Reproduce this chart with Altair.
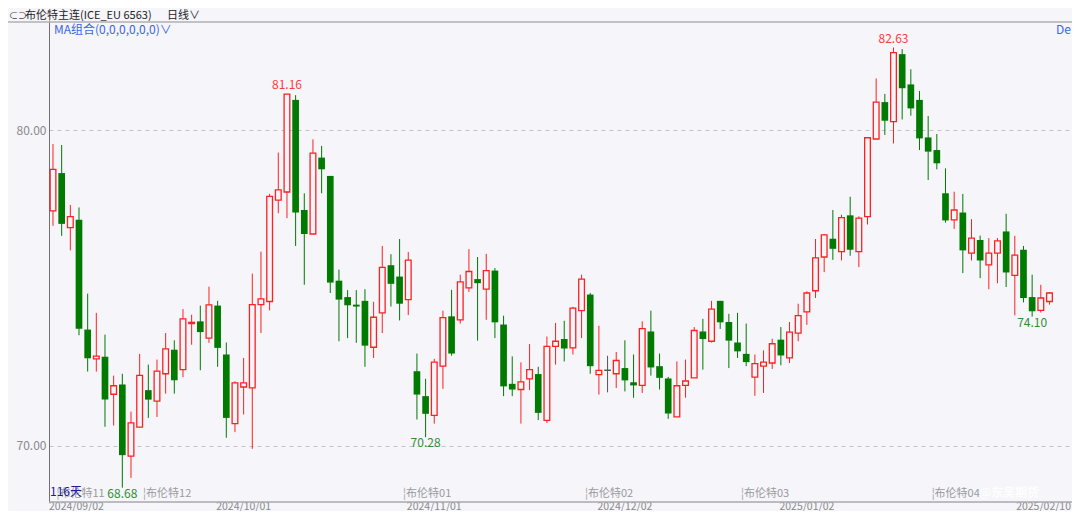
import altair as alt
import numpy as np
import pandas as pd

# ---- data (Brent continuous, daily) ----
opens = [77.45, 78.65, 76.92, 77.17, 73.69, 72.76, 72.83, 71.64, 71.95, 69.68,
         70.60, 71.77, 71.42, 72.29, 73.05, 72.42, 73.88, 73.95, 73.42, 74.45,
         72.90, 70.71, 71.87, 71.84, 74.48, 74.58, 77.79, 78.05, 80.97, 77.48,
         76.72, 79.14, 78.56, 75.24, 74.72, 74.48, 74.60, 73.13, 74.22, 75.73,
         75.37, 74.64, 72.37, 71.58, 70.97, 72.53, 74.11, 74.00, 75.01, 75.29,
         74.97, 75.56, 73.85, 71.97, 71.79, 72.13, 72.28, 70.81, 73.16, 73.39,
         73.11, 74.29, 74.80, 72.26, 72.40, 72.29, 72.47, 72.02, 71.92, 73.63,
         72.53, 72.14, 70.92, 71.92, 72.16, 73.63, 73.32, 74.60, 73.93, 73.28,
         72.92, 72.18, 72.53, 72.63, 73.37, 72.79, 73.58, 74.25, 74.92, 75.99,
         76.57, 76.16, 77.31, 76.16, 77.27, 79.73, 80.90, 80.28, 82.42, 81.46,
         80.97, 79.78, 79.38, 78.01, 77.17, 77.40, 76.11, 76.53, 75.74, 76.11,
         76.80, 75.41, 76.22, 74.72, 74.30, 74.58]
highs = [79.57, 79.54, 77.64, 77.56, 74.83, 74.22, 73.53, 72.23, 72.29, 71.09,
         72.92, 72.58, 72.74, 73.58, 73.35, 74.34, 74.16, 74.45, 75.05, 74.60,
         73.28, 72.05, 72.79, 75.46, 76.16, 77.99, 79.30, 81.16, 81.12, 78.01,
         79.72, 79.51, 78.56, 75.59, 74.94, 74.94, 74.97, 74.57, 76.34, 76.08,
         76.56, 76.15, 72.93, 72.13, 72.76, 74.29, 74.95, 75.43, 76.24, 75.99,
         76.09, 75.64, 74.13, 72.84, 72.65, 73.23, 72.51, 73.47, 73.90, 73.97,
         74.41, 75.43, 74.85, 73.81, 72.86, 72.98, 73.35, 72.90, 73.95, 74.29,
         72.93, 72.19, 72.68, 72.74, 73.77, 74.03, 74.60, 74.60, 74.19, 74.22,
         73.88, 72.90, 73.03, 73.40, 73.77, 73.93, 74.51, 74.90, 76.56, 76.72,
         77.48, 77.33, 77.90, 77.28, 79.78, 81.65, 81.16, 82.63, 82.58, 81.94,
         81.25, 80.46, 79.89, 78.80, 78.06, 77.99, 77.19, 76.67, 76.59, 76.59,
         77.36, 76.66, 76.34, 75.43, 75.11, 74.88]
lows = [76.98, 76.66, 76.20, 73.51, 72.36, 72.36, 70.61, 70.65, 68.68, 68.99,
        70.59, 70.89, 70.92, 71.66, 71.66, 72.18, 73.21, 72.40, 73.27, 72.51,
        70.26, 70.44, 71.00, 69.91, 73.58, 74.30, 77.38, 77.22, 76.34, 75.11,
        76.72, 78.01, 74.85, 73.32, 73.42, 73.27, 72.51, 72.79, 73.58, 74.42,
        73.98, 74.15, 70.84, 70.28, 70.71, 71.81, 72.86, 73.88, 74.88, 73.34,
        74.00, 73.42, 71.58, 71.58, 70.71, 71.77, 70.82, 70.73, 72.58, 72.68,
        72.90, 73.42, 72.29, 71.63, 71.70, 71.84, 71.73, 71.53, 71.68, 72.23,
        71.79, 70.86, 70.92, 71.53, 72.16, 72.42, 73.28, 73.71, 72.47, 72.79,
        72.53, 71.59, 71.68, 72.44, 72.56, 72.63, 73.32, 73.84, 74.69, 75.51,
        75.90, 75.88, 76.03, 75.67, 77.02, 79.73, 79.86, 79.59, 80.35, 80.47,
        79.38, 78.43, 78.77, 77.08, 76.88, 75.48, 75.88, 75.32, 74.97, 75.16,
        75.04, 74.14, 74.55, 74.10, 74.23, 74.48]
closes = [78.77, 77.04, 77.27, 73.72, 72.78, 72.85, 71.47, 71.91, 69.71, 70.73,
          72.24, 71.47, 72.37, 73.08, 72.08, 74.03, 73.92, 73.61, 74.47, 73.11,
          70.89, 72.00, 72.00, 74.48, 74.66, 77.91, 78.12, 81.15, 77.40, 76.72,
          79.28, 78.77, 75.18, 74.64, 74.46, 74.42, 73.18, 74.08, 75.66, 75.14,
          74.51, 75.89, 71.63, 71.02, 72.66, 74.07, 72.93, 75.20, 75.53, 75.16,
          75.56, 73.92, 71.89, 71.79, 72.03, 72.42, 71.05, 73.16, 73.32, 73.09,
          74.37, 75.29, 72.53, 72.40, 72.40, 72.71, 72.08, 71.92, 73.72, 72.49,
          72.16, 71.03, 71.91, 72.06, 73.66, 73.39, 74.34, 73.92, 73.34, 73.00,
          72.66, 72.61, 72.66, 73.24, 72.87, 73.61, 74.13, 74.85, 75.96, 76.69,
          76.25, 77.24, 76.22, 77.22, 79.77, 80.90, 80.31, 82.47, 81.34, 80.70,
          79.75, 79.33, 78.96, 77.15, 77.48, 76.20, 76.59, 75.88, 76.11, 76.50,
          75.50, 76.05, 74.69, 74.27, 74.69, 74.85]
dates = pd.bdate_range("2024-09-02", "2025-02-10").strftime("%Y/%m/%d").tolist()

y_ticks = [70, 80]
date_labels = ["2024/09/02", "2024/10/01", "2024/11/01", "2024/12/02", "2025/01/02", "2025/02/10"]
date_label_idx = [0, 22, 44, 66, 87, 115]
contract_names = ["布伦特11", "布伦特12", "布伦特01", "布伦特02", "布伦特03", "布伦特04"]
contract_start_idx = [1, 11, 41, 62, 80, 102]
peak_idx = [27, 97]
trough_idx = [8, 43, 113]

# ---- styling ----
BG = "#f5f5fa"
RED = "#ff2020"
GREEN = "#007a00"
GRAY = "#555555"
FONT = "Noto Sans CJK SC"
W, H = 1023, 482

n = len(closes)
df = pd.DataFrame({"i": np.arange(n), "date": dates[:n], "o": opens, "h": highs,
                   "l": lows, "c": closes})
df["dir"] = np.where(df.c > df.o, "up", np.where(df.c < df.o, "down", "flat"))

xscale = alt.Scale(domain=[-0.4616, 117.60], nice=False, zero=False)
yscale = alt.Scale(domain=[68.225, 83.502], nice=False, zero=False)
colscale = alt.Scale(domain=["up", "down", "flat"], range=[RED, GREEN, GRAY])
YAX = alt.Axis(values=y_ticks, format=".2f", grid=True, gridDash=[4, 4],
               gridColor="#c4c4c8", gridWidth=1, domain=True, domainColor="#707070",
               domainWidth=1, ticks=False, labelPadding=3, labelColor="#8a8a8a",
               labelFontSize=12, labelFont=FONT, title=None)


def X(field):
    return alt.X(field, scale=xscale, axis=None, title=None)


def Y(field):
    return alt.Y(field, scale=yscale, axis=YAX, title=None)


base = alt.Chart(df)

wicks = base.mark_rule(strokeWidth=1).encode(
    x=X("i:Q"), y=Y("l:Q"), y2="h:Q",
    color=alt.Color("dir:N", scale=colscale, legend=None),
)

down_body = base.transform_filter("datum.dir == 'down'").transform_calculate(
    x0="datum.i - 0.385", x1="datum.i + 0.385"
).mark_rect(fill=GREEN).encode(x=X("x0:Q"), x2="x1:Q", y=Y("o:Q"), y2="c:Q")

up_body = base.transform_filter("datum.dir == 'up'").transform_calculate(
    x0="datum.i - 0.33", x1="datum.i + 0.33"
).mark_rect(fill=BG, stroke=RED, strokeWidth=1.3).encode(
    x=X("x0:Q"), x2="x1:Q", y=Y("o:Q"), y2="c:Q")

flat_body = base.transform_filter("datum.dir == 'flat'").transform_calculate(
    x0="datum.i - 0.385", x1="datum.i + 0.385"
).mark_rule(color=GRAY, strokeWidth=1.5).encode(x=X("x0:Q"), x2="x1:Q", y=Y("o:Q"))

# extreme labels
peaks = pd.DataFrame({"i": peak_idx, "v": [highs[k] for k in peak_idx]})
peaks["t"] = peaks.v.map(lambda v: f"{v:.2f}")
troughs = pd.DataFrame({"i": trough_idx, "v": [lows[k] for k in trough_idx]})
troughs["t"] = troughs.v.map(lambda v: f"{v:.2f}")

peak_text = alt.Chart(peaks).mark_text(font=FONT, fontSize=12, color="#ff3a3a",
                                       baseline="bottom", dy=-2).encode(
    x=X("i:Q"), y=Y("v:Q"), text="t:N")
trough_text = alt.Chart(troughs).mark_text(font=FONT, fontSize=12, color="#2f8f2f",
                                           baseline="top", dy=1).encode(
    x=X("i:Q"), y=Y("v:Q"), text="t:N")

# contract roll labels
contracts = pd.DataFrame({"i": contract_start_idx, "t": ["¦" + s for s in contract_names]})
contract_text = alt.Chart(contracts).transform_calculate(xp="datum.i - 0.6").mark_text(
    font=FONT, fontSize=11, color="#9a9a9a", align="left", baseline="middle").encode(
    x=X("xp:Q"), y=alt.value(H - 8.5), text="t:N")

# date axis labels
DATE_Y = H + 7.5
dl = pd.DataFrame({"i": date_label_idx, "t": date_labels})
date_mid = alt.Chart(dl.iloc[1:-1]).mark_text(
    font=FONT, fontSize=10.5, color="#8a8a8a", baseline="alphabetic").encode(
    x=X("i:Q"), y=alt.value(DATE_Y), text="t:N")


def label(txt, x, y, **kw):
    return alt.Chart(pd.DataFrame({"t": [txt]})).mark_text(font=FONT, **kw).encode(
        x=alt.value(x), y=alt.value(y), text="t:N")


date_first = label(date_labels[0], 0, DATE_Y, fontSize=10.5, color="#8a8a8a",
                   align="left", baseline="alphabetic")
date_last = label(date_labels[-1], W - 1, DATE_Y, fontSize=10.5, color="#8a8a8a",
                  align="right", baseline="alphabetic")

days_text = label(f"{n}天", 1, H - 10, fontSize=12, color="#1c1c9c",
                  align="left", baseline="middle")
watermark = label("@东吴期货", 930, H - 9.5, fontSize=12, color="#ffffff", opacity=0.9,
                  fontWeight="bold", align="left", baseline="middle")

HEAD_Y = -4
header_icon = label("⊂⊃", -40, HEAD_Y, fontSize=9, color="#444444", align="left", baseline="middle")
header = label("布伦特主连(ICE_EU 6563)", -24, HEAD_Y, fontSize=11, color="#222222",
               align="left", baseline="middle")
header2 = label("日线∨", 118, HEAD_Y, fontSize=11, color="#222222", align="left", baseline="middle")
ma_text = label("MA组合(0,0,0,0,0,0)∨", 5, 10, fontSize=12, color="#3a66e8",
                align="left", baseline="middle")
de_text = label("De", W - 1, 10, fontSize=12, color="#3a66e8", align="right", baseline="middle")

# frame lines
top_line = alt.Chart(pd.DataFrame({"a": [0]})).mark_rule(color="#b0b0b4", strokeWidth=1.5).encode(
    x=alt.value(-41), x2=alt.value(W), y=alt.value(2))
bottom_line = alt.Chart(pd.DataFrame({"a": [0]})).mark_rule(color="#a8a8ac", strokeWidth=1.5).encode(
    x=alt.value(0), x2=alt.value(W), y=alt.value(H))

chart = alt.layer(
    wicks, down_body, up_body, flat_body, peak_text, trough_text,
    contract_text, days_text, watermark, date_mid, date_first, date_last,
    top_line, bottom_line, header_icon, header, header2, ma_text, de_text,
).properties(
    width=W, height=H,
    padding={"left": 41, "top": 12, "right": 0, "bottom": 9},
    autosize=alt.AutoSizeParams(type="none"),
    background=BG,
).configure_view(stroke=None)

chart.save("out.html", embed_options={"renderer": "svg", "actions": False})
